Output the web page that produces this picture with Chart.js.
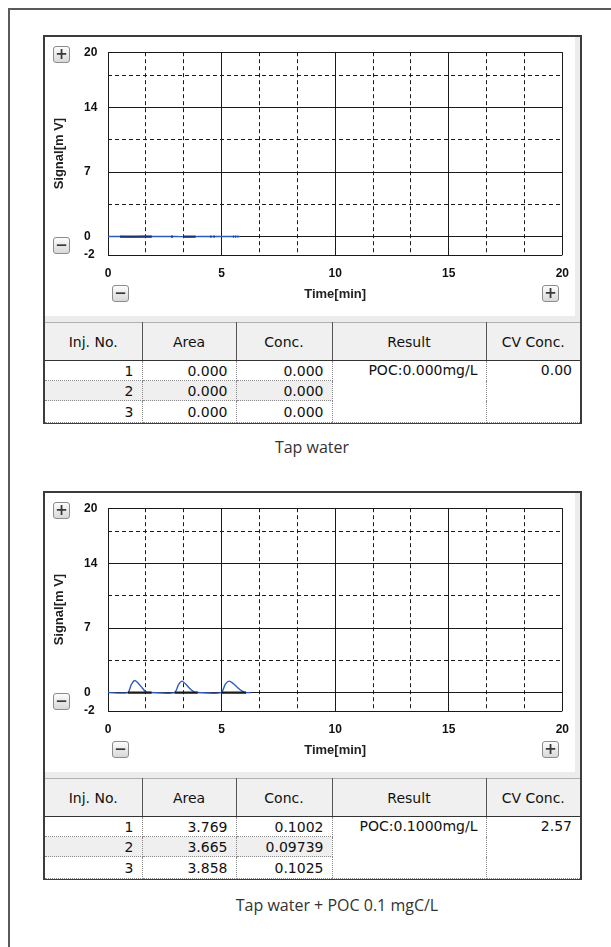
<!DOCTYPE html>
<html><head><meta charset="utf-8">
<script src="https://cdn.jsdelivr.net/npm/chart.js@4.4.1/dist/chart.umd.min.js"></script>
<style>
html,body{margin:0;padding:0;background:#fff;width:611px;height:947px;overflow:hidden;}
body{position:relative;}
.frame{position:absolute;left:8px;top:8px;width:700px;height:1000px;border-left:2px solid #5a5a5a;border-top:2px solid #5a5a5a;}
.panel{position:absolute;left:43px;width:539px;height:389px;box-sizing:border-box;border:2px solid #3c3c3c;background:#ececec;}
.inner{position:absolute;left:45px;width:530px;height:279px;background:#fff;}
canvas{position:absolute;}
.btn{position:absolute;width:17px;height:17px;box-sizing:border-box;border:1px solid #8c8c8c;border-radius:3px;background:linear-gradient(#fdfdfd,#d8d8d8);font:bold 15px/14px "DejaVu Sans";color:#3a3a3a;text-align:center;}
table.res{position:absolute;left:45px;width:535px;border-collapse:collapse;table-layout:fixed;font:14px "DejaVu Sans";color:#111;}
table.res th{height:37px;padding:0;font-weight:normal;background:#f0f0f0;border-top:1px solid #b0b0b0;border-right:1px solid #555;border-bottom:1px solid #333;text-align:center;}
table.res th:last-child{border-right:none;}
table.res td{height:19px;padding:0 8px 0 0;text-align:right;border-right:1px dotted #8a8a8a;border-bottom:1px dotted #8a8a8a;background:#fff;line-height:18px;}
table.res td.top{vertical-align:top;}
table.res td.last{border-right:none;}
table.res tr.shade td.sh{background:#efefef;}
.cap{position:absolute;width:400px;text-align:center;font:16px "Open Sans";color:#333;line-height:20px;}
</style>
</head><body>
<div class="frame"></div>
<script>
// ---- axis ticks ----
const xTickValues = [0, 5/3, 10/3, 5, 20/3, 25/3, 10, 35/3, 40/3, 15, 50/3, 55/3, 20];
const xTickLabels = ['0', '', '', '5', '', '', '10', '', '', '15', '', '', '20'];
const yTickValues = [-2, 0, 3.5, 7, 10.5, 14, 17.5, 20];
const yTickLabels = ['-2', '0', '', '7', '', '14', '', '20'];

// ---- chart 1: Tap water ----
const tapTime   = [0, 0.5, 1.0, 1.5, 2.0, 2.5, 3.0, 3.5, 4.0, 4.5, 5.0, 5.5, 5.8];
const tapSignal = [0, 0, -0.03, 0, 0, 0, 0, -0.02, 0, 0, 0, 0, 0];
const tapMarkStart = [0.53, 2.78, 3.30, 4.50, 4.64, 5.50, 5.60, 5.70];
const tapMarkEnd   = [1.93, 2.86, 3.86, 4.56, 4.70, 5.54, 5.64, 5.73];

// ---- chart 2: Tap water + POC 0.1 mgC/L ----
const pocTime   = [0, 0.87, 1.03, 1.18, 1.35, 1.50, 1.65, 1.87, 2.93, 3.11, 3.26, 3.43, 3.59, 3.77, 3.91, 4.98, 5.16, 5.33, 5.52, 5.71, 5.89, 6.05, 6.29];
const pocSignal = [0, 0, 0.89, 1.31, 0.96, 0.53, 0.11, 0, 0, 0.89, 1.24, 0.89, 0.46, 0.11, 0, 0, 0.89, 1.24, 0.96, 0.53, 0.18, 0, 0];
const pocMarkStart = [0.87, 2.93, 4.98];
const pocMarkEnd   = [1.92, 3.95, 6.08];

// ---- tables ----
const tableHeaders = ['Inj. No.', 'Area', 'Conc.', 'Result', 'CV Conc.'];
const injNo = ['1', '2', '3'];
const tapArea = ['0.000', '0.000', '0.000'];
const tapConc = ['0.000', '0.000', '0.000'];
const tapResult = 'POC:0.000mg/L';
const tapCV = '0.00';
const pocArea = ['3.769', '3.665', '3.858'];
const pocConc = ['0.1002', '0.09739', '0.1025'];
const pocResult = 'POC:0.1000mg/L';
const pocCV = '2.57';
const captions = ['Tap water', 'Tap water + POC 0.1 mgC/L'];

function el(tag, cls, style, text) {
  const e = document.createElement(tag);
  if (cls) e.className = cls;
  if (style) Object.assign(e.style, style);
  if (text !== undefined) e.textContent = text;
  document.body.appendChild(e);
  return e;
}
function isMajor(labels, values, v) {
  const i = values.findIndex(t => Math.abs(t - v) < 1e-6);
  return i >= 0 && labels[i] !== '';
}
function labelFor(labels, values, v) {
  const i = values.findIndex(t => Math.abs(t - v) < 1e-6);
  return i >= 0 ? labels[i] : '';
}

function buildPanel(dy, times, sig, mStart, mEnd, markColor, area, conc, result, cv, caption, capX, capY) {
  el('div', 'panel', {top: (35 + dy) + 'px'});
  el('div', 'inner', {top: (37 + dy) + 'px'});
  const cv_ = el('canvas', null, {left: '44px', top: (36 + dy) + 'px', width: '536px', height: '280px'});
  cv_.width = 536; cv_.height = 280;

  // buttons
  el('div', 'btn', {left: '53px', top: (46 + dy) + 'px'}, '+');
  el('div', 'btn', {left: '53px', top: (237 + dy) + 'px'}, '\u2212');
  el('div', 'btn', {left: '112px', top: (285 + dy) + 'px'}, '\u2212');
  el('div', 'btn', {left: '542px', top: (285 + dy) + 'px'}, '+');

  const lineData = times.map((t, i) => ({x: t, y: sig[i]}));
  const markData = [];
  mStart.forEach((s, i) => { markData.push({x: s, y: 0}, {x: mEnd[i], y: 0}, {x: mEnd[i], y: null}); });

  const fontTick = {family: 'Liberation Sans', size: 12, weight: 'bold'};
  const fontTitle = {family: 'Liberation Sans', size: 13, weight: 'bold'};
  new Chart(cv_.getContext('2d'), {
    type: 'line',
    data: {datasets: [
      {data: markData, borderColor: markColor, borderWidth: 2.2, pointRadius: 0, spanGaps: false, tension: 0},
      {data: lineData, borderColor: '#2d5cc0', borderWidth: 1.4, pointRadius: 0, tension: 0.25}
    ]},
    options: {
      responsive: false, animation: false, devicePixelRatio: 1,
      layout: {padding: {left: 40, top: 11, right: 16, bottom: 0}},
      plugins: {legend: {display: false}, tooltip: {enabled: false}},
      scales: {
        x: {
          type: 'linear', min: 0, max: 20,
          afterBuildTicks: s => { s.ticks = xTickValues.map(v => ({value: v})); },
          afterFit: s => { s.height = 61; },
          grid: {color: '#1a1a1a', lineWidth: 1, drawTicks: false},
          border: {display: false, dash: c => (c.tick && !isMajor(xTickLabels, xTickValues, c.tick.value)) ? [4, 3] : []},
          ticks: {padding: 11, autoSkip: false, maxRotation: 0, color: '#111', font: fontTick,
            callback: v => labelFor(xTickLabels, xTickValues, v)},
          title: {display: true, text: 'Time[min]', color: '#222', font: fontTitle, padding: {top: 0, bottom: 14}}
        },
        y: {
          type: 'linear', min: -2, max: 20,
          afterBuildTicks: s => { s.ticks = yTickValues.map(v => ({value: v})); },
          afterFit: s => { s.width = 24; },
          grid: {color: '#1a1a1a', lineWidth: 1, drawTicks: false},
          border: {display: false, dash: c => (c.tick && !isMajor(yTickLabels, yTickValues, c.tick.value)) ? [4, 3] : []},
          ticks: {padding: 9, autoSkip: false, crossAlign: 'far', color: '#111', font: fontTick,
            callback: v => labelFor(yTickLabels, yTickValues, v)},
          title: {display: true, text: 'Signal[m V]', color: '#222', font: fontTitle, padding: {top: -32, bottom: 0}}
        }
      }
    }
  });

  // table
  const tbl = el('table', 'res', {top: (322 + dy) + 'px'});
  const cg = document.createElement('colgroup');
  [97, 94, 96, 154, 94].forEach(w => { const c = document.createElement('col'); c.style.width = w + 'px'; cg.appendChild(c); });
  tbl.appendChild(cg);
  const hr = document.createElement('tr');
  tableHeaders.forEach(h => { const th = document.createElement('th'); th.textContent = h; hr.appendChild(th); });
  tbl.appendChild(hr);
  injNo.forEach((n, i) => {
    const tr = document.createElement('tr');
    if (i === 1) tr.className = 'shade';
    [n, area[i], conc[i]].forEach(v => { const td = document.createElement('td'); td.className = 'sh'; td.textContent = v; tr.appendChild(td); });
    if (i === 0) {
      const r = document.createElement('td'); r.rowSpan = 3; r.className = 'top'; r.textContent = result; tr.appendChild(r);
      const c = document.createElement('td'); c.rowSpan = 3; c.className = 'top last'; c.textContent = cv; tr.appendChild(c);
    }
    if (i === 2) tr.lastChild.style.height = '21px';
    tbl.appendChild(tr);
  });

  el('div', 'cap', {left: (capX - 200) + 'px', top: (capY - 10) + 'px'}, caption);
}

buildPanel(0, tapTime, tapSignal, tapMarkStart, tapMarkEnd, '#1d3372', tapArea, tapConc, tapResult, tapCV, captions[0], 312, 447);
buildPanel(456, pocTime, pocSignal, pocMarkStart, pocMarkEnd, '#1a1a1a', pocArea, pocConc, pocResult, pocCV, captions[1], 337, 905);
</script>
</body></html>
